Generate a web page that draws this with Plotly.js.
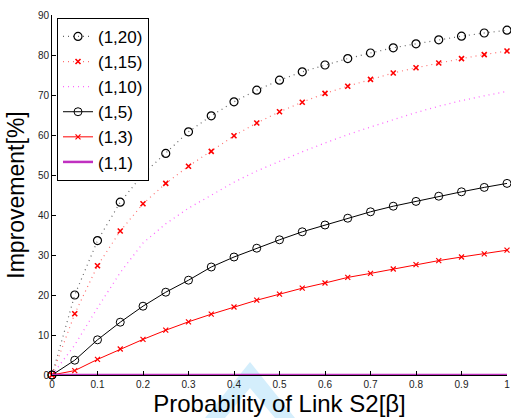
<!DOCTYPE html>
<html>
<head>
<meta charset="utf-8">
<script src="https://cdn.plot.ly/plotly-3.0.1.min.js"></script>
<style>html,body{margin:0;padding:0;background:#fff;}#chart{width:511px;height:418px;}</style>
</head>
<body>
<div id="chart"></div>
<script>
const beta = [0,0.05,0.1,0.15,0.2,0.25,0.3,0.35,0.4,0.45,0.5,0.55,0.6,0.65,0.7,0.75,0.8,0.85,0.9,0.95,1.0];
const s1_20 = [0,20.0,33.6,43.2,50.2,55.4,60.8,64.8,68.3,71.2,73.7,75.8,77.5,79.1,80.5,81.8,82.8,83.8,84.7,85.5,86.2];
const s1_15 = [0,15.3,27.3,36.0,42.8,47.9,52.2,55.9,59.8,63.0,65.8,68.2,70.4,72.2,73.9,75.5,76.8,78.0,79.1,80.1,81.0];
const s1_10 = [0,7.5,16.8,25.6,33.0,37.8,41.7,45.0,48.2,51.0,53.5,55.8,58.0,60.1,62.0,63.8,65.6,67.2,68.6,69.8,70.9];
const s1_5  = [0,3.7,8.8,13.2,17.2,20.7,23.7,27.0,29.5,31.7,33.8,35.8,37.5,39.2,40.8,42.2,43.4,44.7,45.8,46.9,47.9];
const s1_3  = [0,1.1,3.9,6.5,8.9,11.2,13.3,15.2,17.0,18.7,20.2,21.7,23.0,24.4,25.4,26.5,27.6,28.6,29.5,30.3,31.2];
const s1_1  = [0,0,0,0,0,0,0,0,0,0,0,0,0,0,0,0,0,0,0,0,0];
const names = ['(1,20)','(1,15)','(1,10)','(1,5)','(1,3)','(1,1)'];
const xTicks = [0,0.1,0.2,0.3,0.4,0.5,0.6,0.7,0.8,0.9,1];
const yTicks = [0,10,20,30,40,50,60,70,80,90];

const traces = [
  {x: beta, y: s1_20, name: names[0], mode: 'lines+markers',
   line: {color: '#666', width: 1.2, dash: '1px,4px'},
   marker: {symbol: 'circle-open', size: 8, color: '#000', line: {width: 1.2, color: '#000'}}},
  {x: beta, y: s1_15, name: names[1], mode: 'lines+markers',
   line: {color: '#ff7070', width: 1.2, dash: '1px,4px'},
   marker: {symbol: 'x-thin-open', size: 5, color: '#ff0000', line: {width: 1.6, color: '#ff0000'}}},
  {x: beta, y: s1_10, name: names[2], mode: 'lines',
   line: {color: '#ff66ff', width: 1.3, dash: '1px,4px'}},
  {x: beta, y: s1_5, name: names[3], mode: 'lines+markers',
   line: {color: '#000', width: 1},
   marker: {symbol: 'circle-open', size: 8, color: '#000', line: {width: 1, color: '#000'}}},
  {x: beta, y: s1_3, name: names[4], mode: 'lines+markers',
   line: {color: '#ff0000', width: 1},
   marker: {symbol: 'x-thin-open', size: 5, color: '#ff0000', line: {width: 1.2, color: '#ff0000'}}},
  {x: beta, y: s1_1, name: names[5], mode: 'lines',
   line: {color: '#c030c0', width: 2.5}}
];
traces.forEach(t => t.cliponaxis = false);

const fontFam = 'Arial, "Liberation Sans", Helvetica, sans-serif';
const L = 52, R = 507, T = 15, B = 375;
const layout = {
  width: 511, height: 418,
  margin: {l: L, r: 511 - R, t: T, b: 418 - B},
  paper_bgcolor: '#fff', plot_bgcolor: '#fff',
  showlegend: true,
  legend: {x: 0.011, y: 0.992, xanchor: 'left', yanchor: 'top',
    bgcolor: '#fff', bordercolor: '#000', borderwidth: 1,
    font: {family: fontFam, size: 17, color: '#000'}, tracegroupgap: 0, itemwidth: 30},
  xaxis: {range: [0, 1], tickvals: xTicks, ticktext: xTicks.map(String),
    ticks: 'inside', ticklen: 4, tickcolor: '#000', showline: true, linecolor: '#000', linewidth: 1,
    showgrid: false, zeroline: false, mirror: false,
    tickfont: {family: fontFam, size: 10, color: '#222'},
    title: {text: 'Probability of Link S2[β]', font: {family: fontFam, size: 24, color: '#000'}, standoff: 2}},
  yaxis: {range: [0, 90], tickvals: yTicks, ticktext: yTicks.map(String),
    ticks: 'inside', ticklen: 4, tickcolor: '#000', showline: true, linecolor: '#000', linewidth: 1,
    showgrid: false, zeroline: false,
    tickfont: {family: fontFam, size: 10, color: '#222'},
    title: {text: 'Improvement[%]', font: {family: fontFam, size: 23, color: '#000'}, standoff: 6}},
  shapes: [{type: 'path', xref: 'paper', yref: 'paper', layer: 'below',
    path: 'M ' + ((205-L)/(R-L)) + ' ' + ((B-418)/(B-T)) + ' L ' + ((250-L)/(R-L)) + ' ' + ((B-362)/(B-T)) +
          ' L ' + ((295-L)/(R-L)) + ' ' + ((B-418)/(B-T)) + ' L ' + ((275-L)/(R-L)) + ' ' + ((B-418)/(B-T)) +
          ' L ' + ((250-L)/(R-L)) + ' ' + ((B-388)/(B-T)) + ' L ' + ((225-L)/(R-L)) + ' ' + ((B-418)/(B-T)) + ' Z',
    fillcolor: '#d4eefc', line: {width: 0}}]
};
Plotly.newPlot('chart', traces, layout, {displayModeBar: false, staticPlot: true});
</script>
</body>
</html>
